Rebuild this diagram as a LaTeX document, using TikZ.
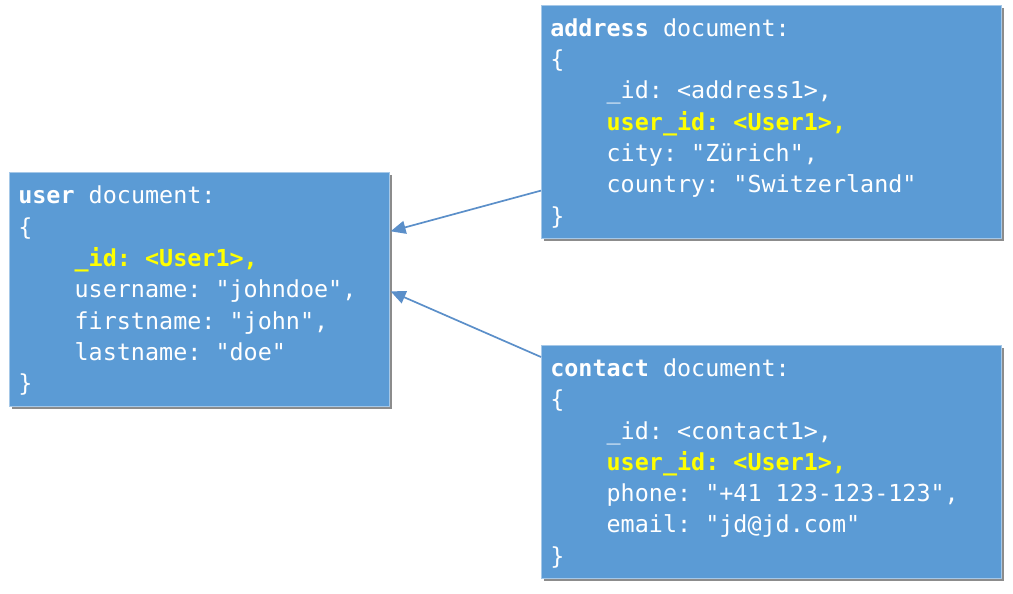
\documentclass[tikz,border=0pt]{standalone}
\usepackage{fontspec}
\setmonofont{DejaVu Sans Mono}
\usetikzlibrary{arrows.meta,calc,shadows}
\definecolor{docblue}{HTML}{5B9BD5}
\definecolor{linkblue}{HTML}{5B8FC9}
\definecolor{keyyellow}{HTML}{FFFF00}
\newcommand{\docfont}{\ttfamily\fontsize{23.4pt}{31.3pt}\selectfont\frenchspacing}
\newcommand{\keyfield}[1]{\textcolor{keyyellow}{\bfseries #1}}
\newcommand{\indt}{\phantom{0000}}
% full-width spaces and fixed first/last line room
\newcommand{\firstline}{\spaceskip=\fontcharwd\font`0\relax
  \xspaceskip=\spaceskip\rule{0pt}{31pt}}
\newcommand{\lastline}{\rule[-14pt]{0pt}{14pt}}

\begin{document}
\begin{tikzpicture}[x=1pt, y=-1pt,
  docbox/.style={draw=docblue!55!white, line width=0.6pt, fill=docblue,
    text=white, font=\docfont, align=left, anchor=north west,
    inner xsep=9pt, inner ysep=0pt, text width=#1,
    drop shadow={shadow xshift=2.5pt, shadow yshift=-2.5pt, fill=black!45, opacity=1}},
  link/.style={-{Triangle[width=13pt, length=15pt]}, linkblue, line width=1.7pt}]
\useasboundingbox (0,0) rectangle (1013,594);

% 1. the three documents
\node[docbox=362pt, minimum height=234pt] (user) at (9,172)
  {\firstline\textbf{user} document:\\
   \{\\
   \indt\keyfield{\_id: <User1>,}\\
   \indt username: "johndoe",\\
   \indt firstname: "john",\\
   \indt lastname: "doe"\\
   \}\lastline};
\node[docbox=442pt, minimum height=233pt] (address) at (541,5)
  {\firstline\textbf{address} document:\\
   \{\\
   \indt \_id: <address1>,\\
   \indt\keyfield{user\_id: <User1>,}\\
   \indt city: "Zürich",\\
   \indt country: "Switzerland"\\
   \}\lastline};
\node[docbox=442pt, minimum height=233pt] (contact) at (541,345)
  {\firstline\textbf{contact} document:\\
   \{\\
   \indt \_id: <contact1>,\\
   \indt\keyfield{user\_id: <User1>,}\\
   \indt phone: "+41 123-123-123",\\
   \indt email: "jd@jd.com"\\
   \}\lastline};

% 2. references to the user document
\draw[link] ($(address.south west)+(0,-48)$) -- ($(user.east)+(1,-58)$);
\draw[link] ($(contact.north west)+(0,12)$) -- ($(user.east)+(1,2)$);
\end{tikzpicture}
\end{document}
